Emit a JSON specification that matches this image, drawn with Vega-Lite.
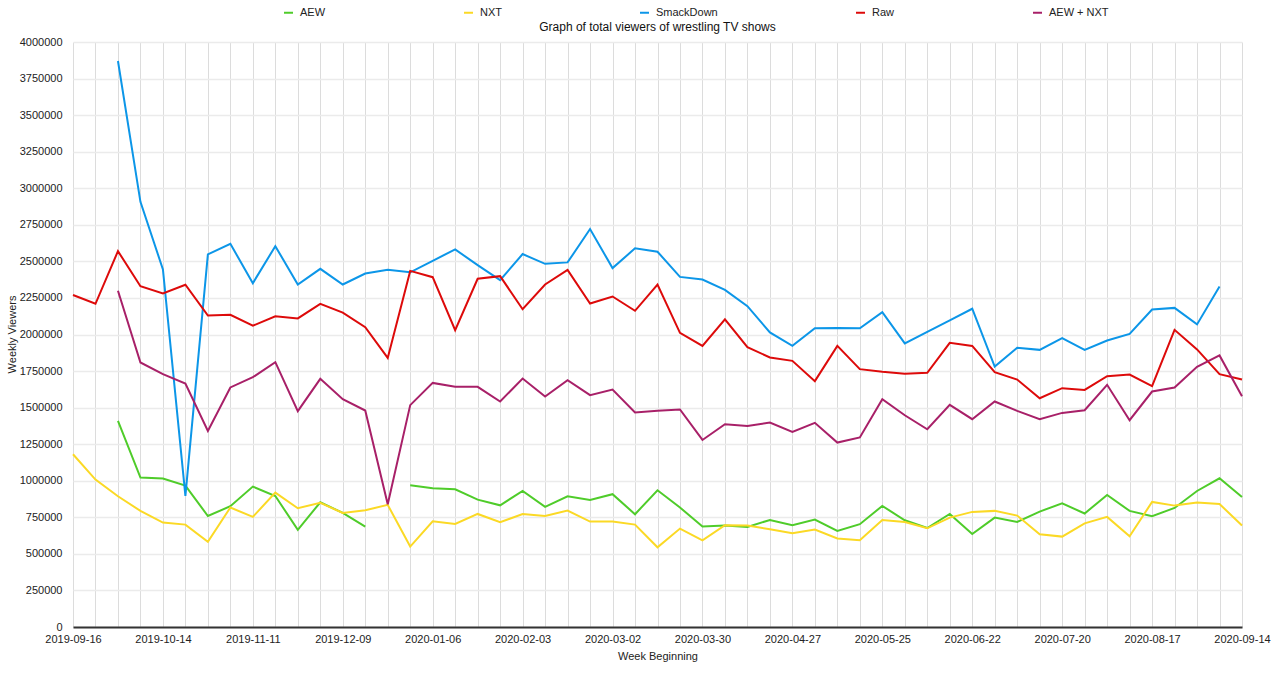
{
  "$schema": "https://vega.github.io/schema/vega-lite/v6.json",
  "description": "Weekly total viewers of wrestling TV shows, Sep 2019 to Sep 2020.",
  "autosize": "none",
  "padding": {"left": 73, "top": 42, "right": 38, "bottom": 46},
  "width": 1169,
  "height": 585,
  "background": "#ffffff",
  "title": {
    "text": "Graph of total viewers of wrestling TV shows",
    "fontSize": 12,
    "fontWeight": "normal",
    "font": "Liberation Sans",
    "color": "#111111",
    "offset": 11,
    "dy": 38
  },
  "data": {
    "values": [
      {"week": "2019-09-16", "AEW": null, "NXT": 1181000, "SmackDown": null, "Raw": 2270000, "AEW + NXT": null},
      {"week": "2019-09-23", "AEW": null, "NXT": 1008000, "SmackDown": null, "Raw": 2210000, "AEW + NXT": null},
      {"week": "2019-09-30", "AEW": 1409000, "NXT": 894000, "SmackDown": 3870000, "Raw": 2570000, "AEW + NXT": 2299000},
      {"week": "2019-10-07", "AEW": 1022000, "NXT": 794000, "SmackDown": 2907000, "Raw": 2330000, "AEW + NXT": 1809000},
      {"week": "2019-10-14", "AEW": 1015000, "NXT": 714000, "SmackDown": 2445000, "Raw": 2280000, "AEW + NXT": 1729000},
      {"week": "2019-10-21", "AEW": 967000, "NXT": 700000, "SmackDown": 896000, "Raw": 2340000, "AEW + NXT": 1665000},
      {"week": "2019-10-28", "AEW": 759000, "NXT": 582000, "SmackDown": 2548000, "Raw": 2130000, "AEW + NXT": 1341000},
      {"week": "2019-11-04", "AEW": 826000, "NXT": 817000, "SmackDown": 2620000, "Raw": 2135000, "AEW + NXT": 1638000},
      {"week": "2019-11-11", "AEW": 960000, "NXT": 753000, "SmackDown": 2351000, "Raw": 2060000, "AEW + NXT": 1708000},
      {"week": "2019-11-18", "AEW": 896000, "NXT": 919000, "SmackDown": 2604000, "Raw": 2125000, "AEW + NXT": 1811000},
      {"week": "2019-11-25", "AEW": 664000, "NXT": 812000, "SmackDown": 2342000, "Raw": 2110000, "AEW + NXT": 1476000},
      {"week": "2019-12-02", "AEW": 853000, "NXT": 849000, "SmackDown": 2449000, "Raw": 2210000, "AEW + NXT": 1697000},
      {"week": "2019-12-09", "AEW": 780000, "NXT": 780000, "SmackDown": 2342000, "Raw": 2150000, "AEW + NXT": 1558000},
      {"week": "2019-12-16", "AEW": 687000, "NXT": 798000, "SmackDown": 2417000, "Raw": 2050000, "AEW + NXT": 1480000},
      {"week": "2019-12-23", "AEW": null, "NXT": 835000, "SmackDown": 2442000, "Raw": 1840000, "AEW + NXT": 839000},
      {"week": "2019-12-30", "AEW": 969000, "NXT": 550000, "SmackDown": 2425000, "Raw": 2435000, "AEW + NXT": 1517000},
      {"week": "2020-01-06", "AEW": 949000, "NXT": 723000, "SmackDown": 2504000, "Raw": 2392000, "AEW + NXT": 1669000},
      {"week": "2020-01-13", "AEW": 942000, "NXT": 705000, "SmackDown": 2582000, "Raw": 2030000, "AEW + NXT": 1642000},
      {"week": "2020-01-20", "AEW": 871000, "NXT": 773000, "SmackDown": 2474000, "Raw": 2381000, "AEW + NXT": 1642000},
      {"week": "2020-01-27", "AEW": 832000, "NXT": 716000, "SmackDown": 2372000, "Raw": 2399000, "AEW + NXT": 1542000},
      {"week": "2020-02-03", "AEW": 930000, "NXT": 773000, "SmackDown": 2550000, "Raw": 2173000, "AEW + NXT": 1699000},
      {"week": "2020-02-10", "AEW": 821000, "NXT": 759000, "SmackDown": 2483000, "Raw": 2342000, "AEW + NXT": 1576000},
      {"week": "2020-02-17", "AEW": 894000, "NXT": 796000, "SmackDown": 2493000, "Raw": 2442000, "AEW + NXT": 1688000},
      {"week": "2020-02-24", "AEW": 869000, "NXT": 721000, "SmackDown": 2721000, "Raw": 2212000, "AEW + NXT": 1585000},
      {"week": "2020-03-02", "AEW": 908000, "NXT": 721000, "SmackDown": 2454000, "Raw": 2260000, "AEW + NXT": 1624000},
      {"week": "2020-03-09", "AEW": 771000, "NXT": 700000, "SmackDown": 2589000, "Raw": 2162000, "AEW + NXT": 1467000},
      {"week": "2020-03-16", "AEW": 935000, "NXT": 545000, "SmackDown": 2566000, "Raw": 2342000, "AEW + NXT": 1478000},
      {"week": "2020-03-23", "AEW": 817000, "NXT": 673000, "SmackDown": 2394000, "Raw": 2011000, "AEW + NXT": 1487000},
      {"week": "2020-03-30", "AEW": 687000, "NXT": 593000, "SmackDown": 2376000, "Raw": 1922000, "AEW + NXT": 1279000},
      {"week": "2020-04-06", "AEW": 694000, "NXT": 696000, "SmackDown": 2305000, "Raw": 2103000, "AEW + NXT": 1387000},
      {"week": "2020-04-13", "AEW": 684000, "NXT": 694000, "SmackDown": 2194000, "Raw": 1913000, "AEW + NXT": 1375000},
      {"week": "2020-04-20", "AEW": 732000, "NXT": 668000, "SmackDown": 2014000, "Raw": 1843000, "AEW + NXT": 1398000},
      {"week": "2020-04-27", "AEW": 696000, "NXT": 641000, "SmackDown": 1922000, "Raw": 1820000, "AEW + NXT": 1334000},
      {"week": "2020-05-04", "AEW": 735000, "NXT": 666000, "SmackDown": 2043000, "Raw": 1681000, "AEW + NXT": 1396000},
      {"week": "2020-05-11", "AEW": 657000, "NXT": 605000, "SmackDown": 2045000, "Raw": 1922000, "AEW + NXT": 1261000},
      {"week": "2020-05-18", "AEW": 703000, "NXT": 593000, "SmackDown": 2043000, "Raw": 1763000, "AEW + NXT": 1296000},
      {"week": "2020-05-25", "AEW": 828000, "NXT": 732000, "SmackDown": 2153000, "Raw": 1745000, "AEW + NXT": 1558000},
      {"week": "2020-06-01", "AEW": 730000, "NXT": 718000, "SmackDown": 1939000, "Raw": 1731000, "AEW + NXT": 1448000},
      {"week": "2020-06-08", "AEW": 677000, "NXT": 675000, "SmackDown": 2018000, "Raw": 1738000, "AEW + NXT": 1352000},
      {"week": "2020-06-15", "AEW": 773000, "NXT": 748000, "SmackDown": 2096000, "Raw": 1943000, "AEW + NXT": 1519000},
      {"week": "2020-06-22", "AEW": 636000, "NXT": 787000, "SmackDown": 2176000, "Raw": 1922000, "AEW + NXT": 1421000},
      {"week": "2020-06-29", "AEW": 748000, "NXT": 794000, "SmackDown": 1781000, "Raw": 1742000, "AEW + NXT": 1542000},
      {"week": "2020-07-06", "AEW": 718000, "NXT": 762000, "SmackDown": 1909000, "Raw": 1692000, "AEW + NXT": 1478000},
      {"week": "2020-07-13", "AEW": 789000, "NXT": 634000, "SmackDown": 1895000, "Raw": 1564000, "AEW + NXT": 1421000},
      {"week": "2020-07-20", "AEW": 846000, "NXT": 618000, "SmackDown": 1975000, "Raw": 1633000, "AEW + NXT": 1464000},
      {"week": "2020-07-27", "AEW": 776000, "NXT": 709000, "SmackDown": 1895000, "Raw": 1621000, "AEW + NXT": 1482000},
      {"week": "2020-08-03", "AEW": 903000, "NXT": 753000, "SmackDown": 1959000, "Raw": 1715000, "AEW + NXT": 1656000},
      {"week": "2020-08-10", "AEW": 794000, "NXT": 620000, "SmackDown": 2004000, "Raw": 1726000, "AEW + NXT": 1414000},
      {"week": "2020-08-17", "AEW": 757000, "NXT": 855000, "SmackDown": 2171000, "Raw": 1647000, "AEW + NXT": 1610000},
      {"week": "2020-08-24", "AEW": 814000, "NXT": 830000, "SmackDown": 2182000, "Raw": 2032000, "AEW + NXT": 1638000},
      {"week": "2020-08-31", "AEW": 930000, "NXT": 851000, "SmackDown": 2069000, "Raw": 1898000, "AEW + NXT": 1779000},
      {"week": "2020-09-07", "AEW": 1017000, "NXT": 841000, "SmackDown": 2329000, "Raw": 1729000, "AEW + NXT": 1857000},
      {"week": "2020-09-14", "AEW": 889000, "NXT": 694000, "SmackDown": null, "Raw": 1692000, "AEW + NXT": 1578000}
    ]
  },
  "transform": [
    {"fold": ["AEW", "NXT", "SmackDown", "Raw", "AEW + NXT"], "as": ["Show", "Viewers"]}
  ],
  "mark": {"type": "line", "strokeWidth": 2, "invalid": "break-paths-show-domains"},
  "encoding": {
    "x": {
      "field": "week",
      "type": "ordinal",
      "title": "Week Beginning",
      "scale": {"type": "point", "padding": 0},
      "axis": {
        "labelAngle": 0,
        "labelOverlap": false,
        "labelPadding": 6,
        "ticks": false,
        "domainColor": "#333333",
        "domainWidth": 2,
        "gridColor": "#dcdcdc",
        "gridWidth": 1,
        "labelExpr": "indexof(['2019-09-16','2019-10-14','2019-11-11','2019-12-09','2020-01-06','2020-02-03','2020-03-02','2020-03-30','2020-04-27','2020-05-25','2020-06-22','2020-07-20','2020-08-17','2020-09-14'], datum.value) >= 0 ? datum.value : ''",
        "titleY": 23,
        "titleBaseline": "top"
      }
    },
    "y": {
      "field": "Viewers",
      "type": "quantitative",
      "title": "Weekly Viewers",
      "scale": {"domain": [0, 4000000], "nice": false},
      "axis": {
        "values": [0, 250000, 500000, 750000, 1000000, 1250000, 1500000, 1750000, 2000000, 2250000, 2500000, 2750000, 3000000, 3250000, 3500000, 3750000, 4000000],
        "format": "d",
        "domain": false,
        "ticks": false,
        "labelPadding": 11,
        "gridColor": "#ebebeb",
        "gridWidth": 1.5,
        "titleX": -56,
        "titleY": 292,
        "titleAngle": -90,
        "titleBaseline": "bottom"
      }
    },
    "color": {
      "field": "Show",
      "type": "nominal",
      "sort": ["AEW", "NXT", "SmackDown", "Raw", "AEW + NXT"],
      "scale": {
        "domain": ["AEW", "NXT", "SmackDown", "Raw", "AEW + NXT"],
        "range": ["#4fcc2a", "#fbd925", "#0c96e8", "#dd0a0a", "#a82068"]
      },
      "legend": {
        "title": null,
        "orient": "none",
        "legendX": 210,
        "legendY": -35,
        "direction": "horizontal",
        "columns": 5,
        "columnPadding": 134,
        "symbolType": "stroke",
        "symbolSize": 81,
        "symbolStrokeWidth": 2,
        "labelOffset": 6,
        "labelFontSize": 11,
        "padding": 0
      }
    }
  },
  "config": {
    "font": "Liberation Sans",
    "axis": {
      "labelFont": "Liberation Sans",
      "titleFont": "Liberation Sans",
      "labelFontSize": 11,
      "titleFontSize": 11,
      "titleFontWeight": "normal",
      "labelColor": "#222222",
      "titleColor": "#222222",
      "grid": true
    },
    "legend": {"labelFont": "Liberation Sans", "labelColor": "#222222"},
    "view": {"stroke": null}
  }
}
